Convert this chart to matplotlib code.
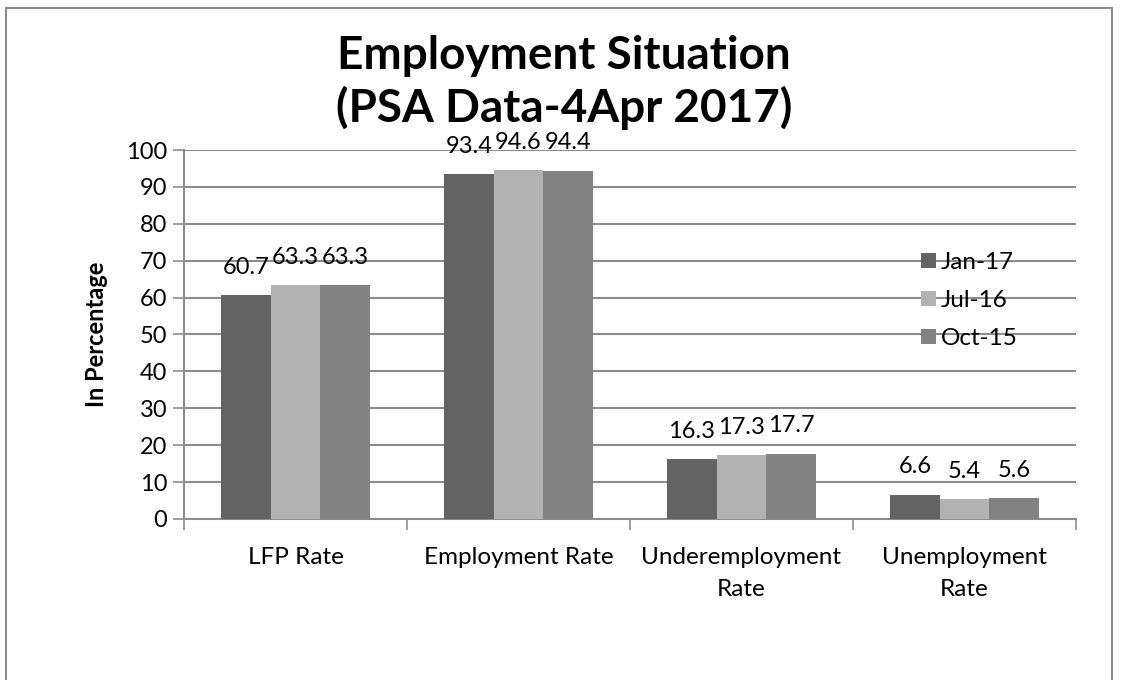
import numpy as np
import matplotlib.pyplot as plt
from matplotlib.patches import Rectangle

plt.rcParams['font.family'] = ['Lato', 'DejaVu Sans']

categories = ['LFP Rate', 'Employment Rate', 'Underemployment\nRate', 'Unemployment\nRate']
series_names = ['Jan-17', 'Jul-16', 'Oct-15']
jan17 = [60.7, 93.4, 16.3, 6.6]
jul16 = [63.3, 94.6, 17.3, 5.4]
oct15 = [63.3, 94.4, 17.7, 5.6]
colors = ['#636363', '#b2b2b2', '#828282']

fig = plt.figure(figsize=(11.3, 6.8), dpi=100)
ax = fig.add_axes([0.1628, 0.2368, 0.7894, 0.5426])

# outer chart frame (bottom edge runs past the image)
fig.patches.append(Rectangle((6 / 1130, -0.05), (1112 - 6) / 1130, 1.05 - 8 / 680,
                             transform=fig.transFigure, fill=False,
                             edgecolor='#8c8c8c', lw=1.5))

x = np.arange(len(categories))
bw = 0.222
for i, (vals, name, c) in enumerate(zip([jan17, jul16, oct15], series_names, colors)):
    bars = ax.bar(x + (i - 1) * bw, vals, width=bw, color=c, label=name, zorder=3)
    for b, v in zip(bars, vals):
        ax.annotate(f'{v}', (b.get_x() + b.get_width() / 2, v), xytext=(0, 20),
                    textcoords='offset points', ha='center', va='center',
                    fontsize=17, zorder=4)

ax.set_xlim(-0.5, 3.5)
ax.set_ylim(0, 100)
ax.set_yticks(range(0, 101, 10))
ax.yaxis.grid(True, color='#8c8c8c', lw=1.5, zorder=0)
ax.tick_params(axis='y', labelsize=17, length=8, width=1.2, color='#8c8c8c', pad=4)

ax.set_xticks(np.arange(-0.5, 3.6, 1.0))
ax.set_xticklabels([])
ax.tick_params(axis='x', which='major', length=8, width=1.2, color='#8c8c8c', direction='out')
ax.set_xticks(x, minor=True)
ax.set_xticklabels(categories, minor=True, fontsize=17.5, linespacing=1.65)
ax.tick_params(axis='x', which='minor', length=0, pad=20)

for s in ['top', 'right']:
    ax.spines[s].set_visible(False)
for s in ['left', 'bottom']:
    ax.spines[s].set_color('#8c8c8c')
    ax.spines[s].set_linewidth(1.5)

ax.set_ylabel('In Percentage', fontsize=17, fontweight='bold', labelpad=13)

fig.text(564 / 1130, 1 - 56 / 680, 'Employment Situation', ha='center', va='center',
         fontsize=33, fontweight='bold')
fig.text(564 / 1130, 1 - 108 / 680, '(PSA Data-4Apr 2017)', ha='center', va='center',
         fontsize=33, fontweight='bold')

ax.legend(loc='upper left', bbox_to_anchor=(921 / 1130, 1 - 252 / 680),
          bbox_transform=fig.transFigure, frameon=False, fontsize=17.5,
          handlelength=0.6, handleheight=0.6, handletextpad=0.2, labelspacing=0.7,
          borderaxespad=0, borderpad=0)

fig.savefig('out.png', dpi=100)
